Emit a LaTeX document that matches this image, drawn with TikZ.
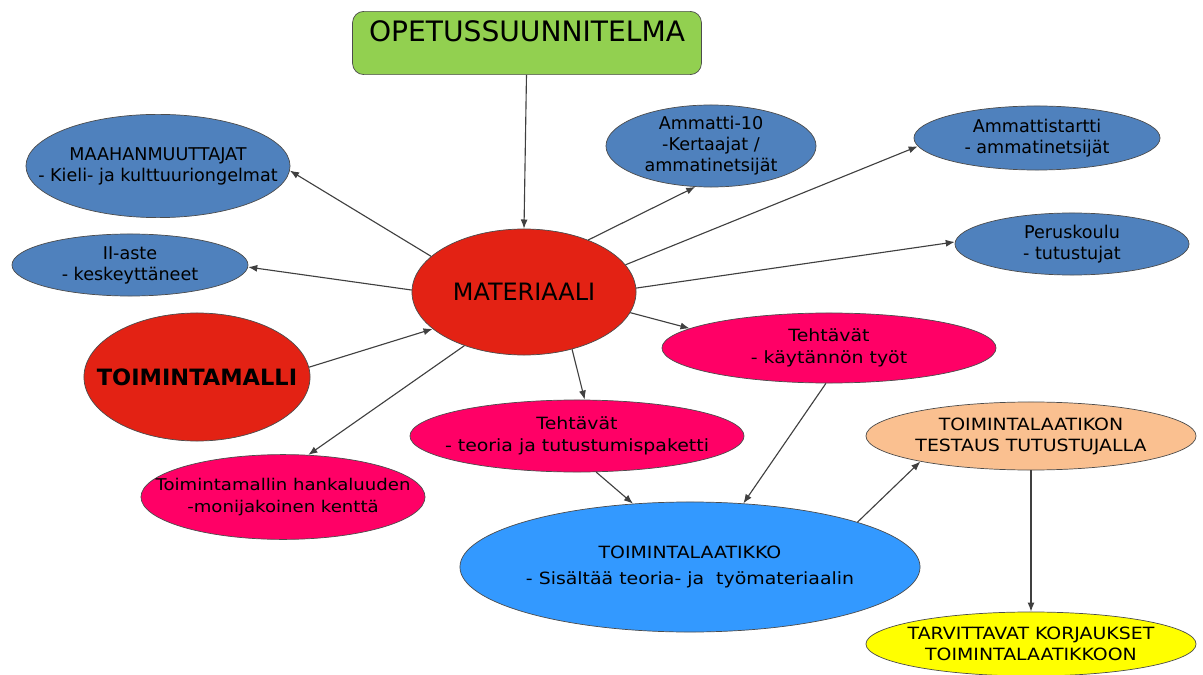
\documentclass[tikz,border=0pt]{standalone}
\usepackage{fontspec}
\setmainfont{DejaVu Sans}
\newfontfamily\widesans[FakeStretch=1.12]{DejaVu Sans}
\usetikzlibrary{shapes.geometric,arrows.meta}

\definecolor{opgreen}{RGB}{146,208,80}
\definecolor{matred}{RGB}{227,34,20}
\definecolor{grpblue}{RGB}{79,129,189}
\definecolor{taskpink}{RGB}{255,0,102}
\definecolor{boxblue}{RGB}{51,153,255}
\definecolor{testpeach}{RGB}{250,192,144}
\definecolor{fixyellow}{RGB}{255,255,0}

\begin{document}
\begin{tikzpicture}[x=0.025cm,y=-0.025cm,
    >={Latex[length=6.5pt,width=5pt]},
    oval/.style={ellipse,draw=black!70,line width=0.5pt,inner xsep=-20pt,inner ysep=-2pt,align=center},
    grp/.style={oval,fill=grpblue,font=\fontsize{12.5}{15}\selectfont},
    task/.style={oval,fill=taskpink,font=\widesans\fontsize{12}{15.5}\selectfont},
    caps/.style={oval,font=\widesans\fontsize{12}{15}\selectfont},
    link/.style={->,draw=black!75,line width=0.8pt}]
\useasboundingbox (0,0) rectangle (1203,675);

\node (opetus) [rectangle,rounded corners=8pt,draw=black!70,line width=0.5pt,fill=opgreen,
    minimum width=8.72cm,minimum height=1.58cm,text height=14pt,text depth=15.6pt,
    font=\fontsize{20}{24}\selectfont] at (527,43) {OPETUSSUUNNITELMA};

\node (mat) [oval,fill=matred,minimum width=5.6cm,minimum height=3.15cm,
    font=\fontsize{17}{20}\selectfont] at (524,292) {MATERIAALI};
\node (tmalli) [oval,fill=matred,minimum width=5.65cm,minimum height=3.2cm,
    font=\bfseries\fontsize{16}{20}\selectfont] at (197,377) {TOIMINTAMALLI};

% kohderyhmat
\node (maah) [grp,minimum width=6.6cm,minimum height=2.58cm] at (158,166)
    {MAAHANMUUTTAJAT\\- Kieli- ja kulttuuriongelmat};
\node (aste) [grp,minimum width=5.9cm,minimum height=1.55cm] at (130,265)
    {II-aste\\- keskeyttäneet};
\node (amm10) [grp,minimum width=5.25cm,minimum height=2.05cm] at (711,146)
    {Ammatti-10\\-Kertaajat /\\ammatinetsijät};
\node (ammst) [grp,minimum width=6.15cm,minimum height=1.6cm] at (1037,138)
    {Ammattistartti\\- ammatinetsijät};
\node (perus) [grp,minimum width=5.85cm,minimum height=1.55cm] at (1072,244)
    {Peruskoulu\\- tutustujat};

% tehtavat
\node (hank) [task,minimum width=7.1cm,minimum height=2.12cm,
    font=\widesans\fontsize{11.5}{15}\selectfont] at (283,497)
    {Toimintamallin hankaluuden\\-monijakoinen kenttä};
\node (tkayt) [task,minimum width=8.35cm,minimum height=1.75cm] at (829,348)
    {Tehtävät\\- käytännön työt};
\node (tteor) [task,minimum width=8.35cm,minimum height=1.8cm] at (577,436)
    {Tehtävät\\- teoria ja tutustumispaketti};

\node (tlaat) [oval,fill=boxblue,minimum width=11.5cm,minimum height=3.25cm,
    font=\widesans\fontsize{12}{18}\selectfont] at (690,567)
    {TOIMINTALAATIKKO\\- Sisältää teoria- ja \ työmateriaalin};
\node (testaus) [caps,fill=testpeach,minimum width=8.25cm,minimum height=1.7cm] at (1031,436)
    {TOIMINTALAATIKON\\TESTAUS TUTUSTUJALLA};
\node (korj) [caps,fill=fixyellow,minimum width=8.25cm,minimum height=1.6cm] at (1031,644)
    {TARVITTAVAT KORJAUKSET\\TOIMINTALAATIKKOON};

\draw [link] (opetus) -- (mat.90);
\draw [link] (mat.159) -- (maah.358);
\draw [link] (mat.179) -- (aste.359);
\draw [link] (tmalli.5) -- (mat.202);
\draw [link] (mat.222) -- (hank.59);
\draw [link] (mat.39) -- (amm10.249);
\draw [link] (mat.15) -- (ammst.184);
\draw [link] (mat.2.5) -- (perus.179);
\draw [link] (mat.349) -- (tkayt.172);
\draw [link] (mat.310) -- (tteor.78);
\draw [link] (tteor.298) -- (tlaat.132);
\draw [link] (tkayt.265) -- (tlaat.50);
\draw [link] (tlaat.15) -- (testaus.193);
\draw [link] (testaus) -- (korj);

\end{tikzpicture}
\end{document}
